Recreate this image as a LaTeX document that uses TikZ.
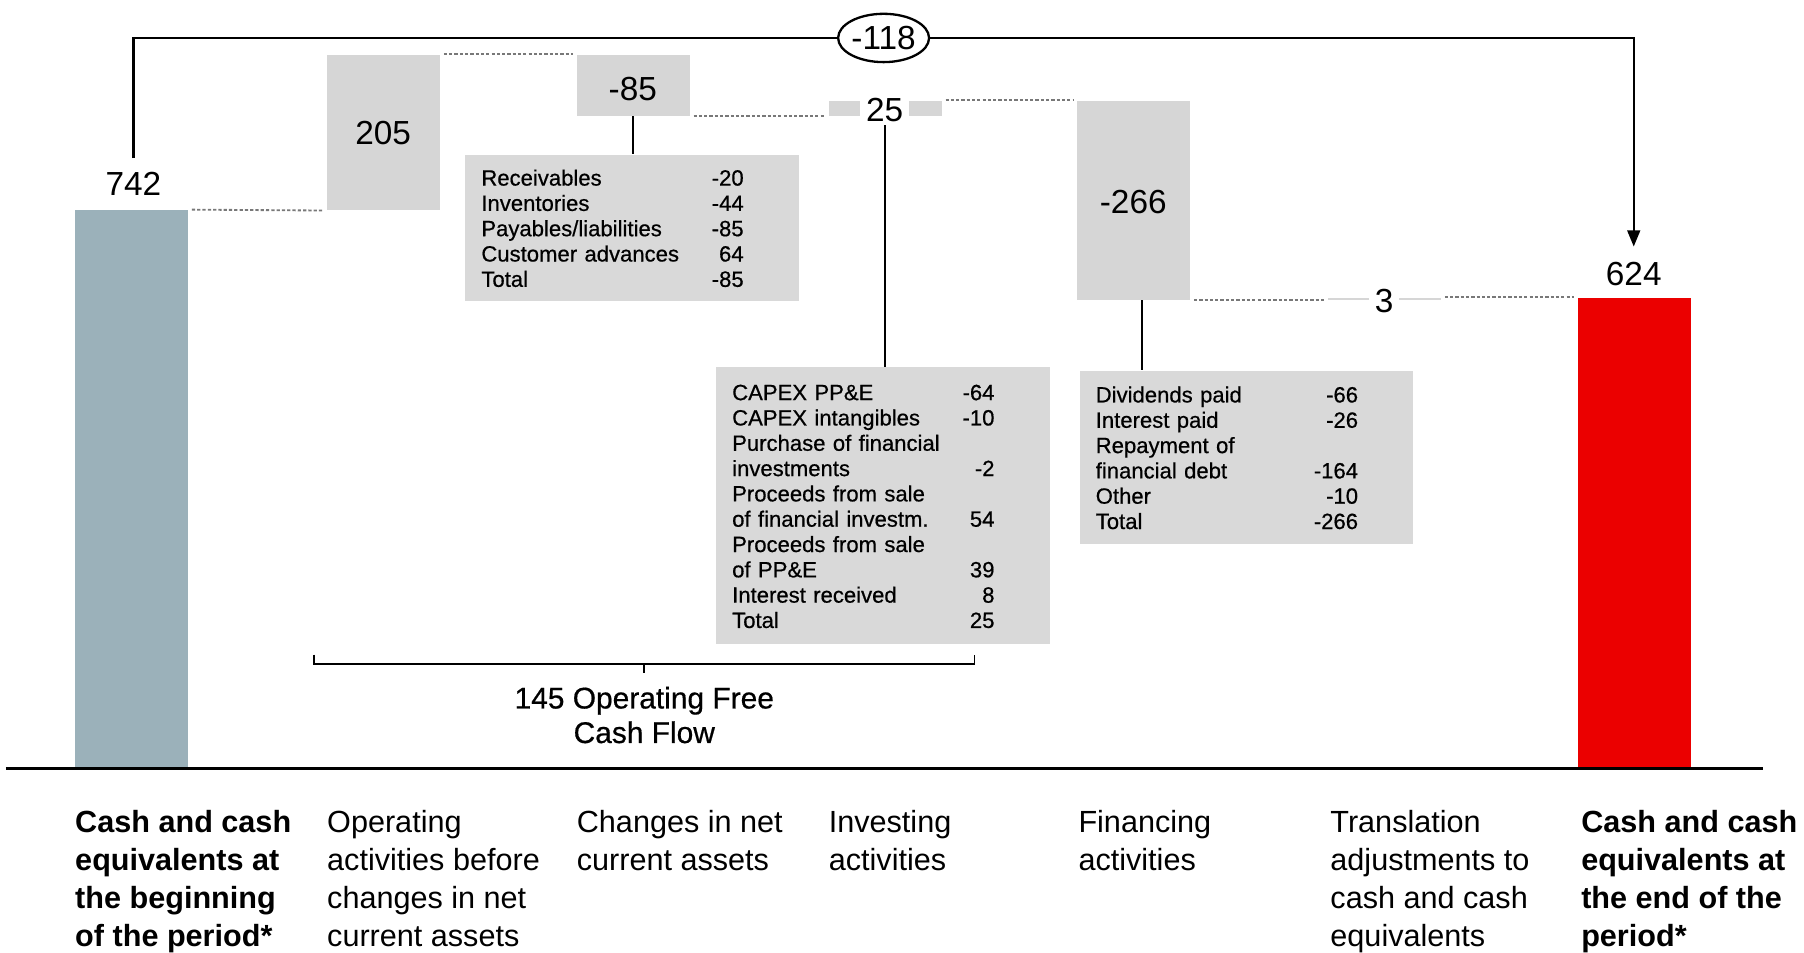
\documentclass[tikz,border=0pt]{standalone}
\usepackage{fontspec}
\setmainfont{Liberation Sans}
\newfontfamily\medfont{Liberation Sans}[FakeBold=0.6]
\usepackage{array}
\usepackage{tikz}
\usetikzlibrary{shapes.geometric}
\usetikzlibrary{arrows.meta}

\definecolor{openblue}{RGB}{155,177,186}
\definecolor{closered}{RGB}{235,0,0}
\definecolor{bargray}{RGB}{214,214,214}
\definecolor{tablegray}{RGB}{217,217,217}
\definecolor{dashgray}{RGB}{120,120,120}

\newcolumntype{L}{>{\raggedright\arraybackslash}p{94pt}}
\newcolumntype{N}{>{\raggedleft\arraybackslash}p{20pt}}
\newcommand{\firstrowgap}{\rule{0pt}{10.7pt}}

\tikzset{
  wfbar/.style          = { rectangle, inner sep=0pt, minimum width=49pt, anchor=south west },
  movebar/.style        = { wfbar, fill=bargray },
  amount/.style         = { inner sep=2.5pt, font=\fontsize{14.5}{16}\selectfont },
  knockout/.style       = { fill=white, inner ysep=1pt },
  total/.style          = { amount, ellipse, draw, line width=1pt, fill=white,
                            inner sep=0pt, minimum width=39.5pt, minimum height=21pt },
  breakdown/.style      = { rectangle, fill=tablegray, anchor=north west, align=left,
                            text width=131pt, inner xsep=7pt, inner ysep=0pt,
                            font=\medfont\fontsize{9.6}{11}\selectfont },
  category/.style       = { anchor=north west, inner sep=0pt, align=left,
                            font=\fontsize{13.3}{16.5}\selectfont },
  keycategory/.style    = { category, font=\fontsize{13.3}{16.5}\selectfont\bfseries },
  bridge/.style         = { draw=dashgray, line width=0.8pt, dash pattern=on 1.4pt off 0.9pt,
                            shorten <=1.5pt, shorten >=1.5pt },
  leader/.style         = { draw=black, line width=0.7pt },
  flowline/.style       = { draw=black, line width=1pt },
  axis/.style           = { draw=black, line width=1pt }
}

\begin{document}
\begin{tikzpicture}[x=0.5pt,y=-0.5pt]
  \useasboundingbox (0,0) rectangle (1568,828);

  \node (openbar)  [wfbar,fill=openblue,minimum height=242.5pt] at (65,668)   {};
  \node (opbar)    [movebar,minimum height=67.5pt]              at (284,183)  {};
  \node (ncabar)   [movebar,minimum height=26.5pt]              at (501,101)  {};
  \node (invbar)   [movebar,minimum height=6.5pt]               at (720,101)  {};
  \node (finbar)   [movebar,minimum height=86.5pt]              at (936,261)  {};
  \node (fxbar)    [movebar,minimum height=1pt]                 at (1154,261) {};
  \node (closebar) [wfbar,fill=closered,minimum height=204.5pt] at (1371,668) {};

  \draw [axis] (5,668) -- (1532,668);

  \draw [bridge] (openbar.north east) -- (opbar.south west);
  \draw [bridge] (opbar.north east)   -- (ncabar.north west);
  \draw [bridge] (ncabar.south east)  -- (invbar.south west);
  \draw [bridge] (invbar.north east)  -- (finbar.north west);
  \draw [bridge] (finbar.south east)  -- (fxbar.south west);
  \draw [bridge] (fxbar.north east)   -- (closebar.north west);

  \node (nwctab) [breakdown,minimum height=63.5pt] at (404,134) {%
    \begin{tabular}{@{}L@{}N@{}}
      \firstrowgap Receivables & -20 \\
      Inventories              & -44 \\
      Payables/liabilities     & -85 \\
      Customer advances        & 64  \\
      Total                    & -85
    \end{tabular}};
  \node (invtab) [breakdown,minimum height=120pt] at (622,319) {%
    \begin{tabular}{@{}L@{}N@{}}
      \firstrowgap CAPEX PP\&E & -64 \\
      CAPEX intangibles        & -10 \\
      Purchase of financial    &     \\
      investments              & -2  \\
      Proceeds from sale       &     \\
      of financial investm.    & 54  \\
      Proceeds from sale       &     \\
      of PP\&E                 & 39  \\
      Interest received        & 8   \\
      Total                    & 25
    \end{tabular}};
  \node (fintab) [breakdown,minimum height=75pt] at (938,322) {%
    \begin{tabular}{@{}L@{}N@{}}
      \firstrowgap Dividends paid & -66  \\
      Interest paid               & -26  \\
      Repayment of                &      \\
      financial debt              & -164 \\
      Other                       & -10  \\
      Total                       & -266
    \end{tabular}};

  \draw [leader] (ncabar.south) -- (ncabar.south |- nwctab.north);
  \draw [leader] (invbar.south) -- (invbar.south |- invtab.north);
  \draw [leader] ([xshift=3.5pt]finbar.south) -- ([xshift=3.5pt]finbar.south |- fintab.north);

  \node (vopen)  [amount]          at (116,160)  {742};
  \node (vop)    [amount]          at (333,116)  {205};
  \node (vnca)   [amount]          at (550,77)   {-85};
  \node (vinv)   [amount,knockout] at (769,96)   {25};
  \node (vfin)   [amount]          at (985,176)  {-266};
  \node (vfx)    [amount,knockout] at (1203,262) {3};
  \node (vclose) [amount]          at (1420,238) {624};
  \node (vdelta) [total]           at (768,33)   {-118};

  \draw [flowline,shorten <=3.5pt] (vopen.north) |- (vdelta.west);
  \draw [flowline,shorten >=4pt,-{Triangle[length=7pt,width=5.5pt]}] (vdelta.east) -| (vclose.north);

  \coordinate (fcftip) at (560,585);
  \draw [leader] (273,569) |- (847,577) -- (847,569);
  \draw [leader] (560,577) -- (fcftip);
  \node (fcf) [align=center,inner sep=0pt,font=\medfont\fontsize{13}{15}\selectfont] at (560,621.5)
    {145 Operating Free\\Cash Flow};

  \node (capopen)  [keycategory] at (65,704)   {Cash and cash\\equivalents at\\the beginning\\of the period*};
  \node (capop)    [category]    at (284,704)  {Operating\\activities before\\changes in net\\current assets};
  \node (capnca)   [category]    at (501,704)  {Changes in net\\current assets};
  \node (capinv)   [category]    at (720,704)  {Investing\\activities};
  \node (capfin)   [category]    at (937,704)  {Financing\\activities};
  \node (capfx)    [category]    at (1156,704) {Translation\\adjustments to\\cash and cash\\equivalents};
  \node (capclose) [keycategory] at (1374,704) {Cash and cash\\equivalents at\\the end of the\\period*};
\end{tikzpicture}
\end{document}
